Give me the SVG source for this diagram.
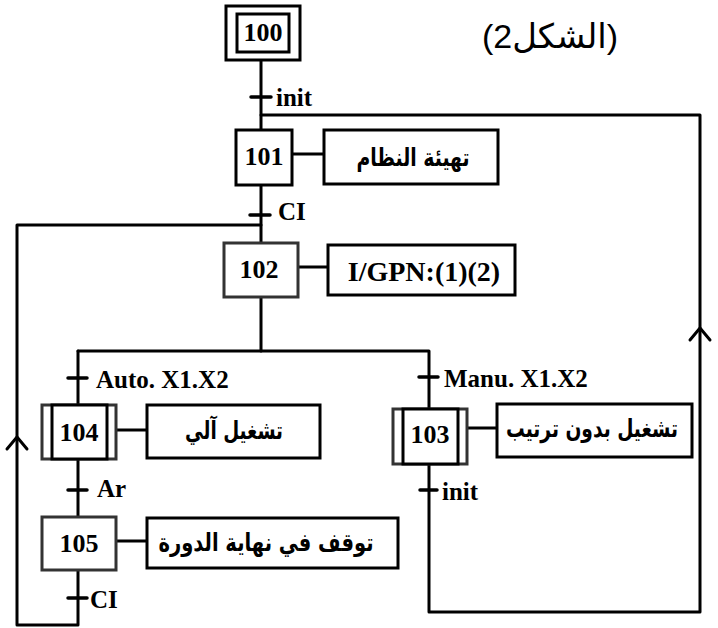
<svg xmlns="http://www.w3.org/2000/svg" width="718" height="628" viewBox="0 0 718 628">
<style>
.ln{fill:none;stroke:#000;stroke-width:3;stroke-linejoin:round;stroke-linecap:round}
.tk{stroke:#000;stroke-width:3.5;stroke-linecap:round}
.bx{fill:#fff;stroke:#000;stroke-width:3}
.gb{fill:#fff;stroke:#333;stroke-width:3}
.num{font-family:"Liberation Serif","Times New Roman",serif;font-weight:bold;font-size:26px;fill:#000;text-anchor:middle}
.lbl{font-family:"Liberation Serif","Times New Roman",serif;font-weight:bold;font-size:25px;fill:#000}
.act{font-family:"Liberation Serif",serif;font-weight:bold;font-size:28px;fill:#000;text-anchor:middle}
.ar{font-family:"DejaVu Sans","Noto Sans",sans-serif;font-weight:bold;font-size:25px;fill:#000;text-anchor:middle}
.ttl{font-family:"Liberation Sans","DejaVu Sans",sans-serif;font-size:34px;fill:#000;text-anchor:middle}
</style>
<g id="connectors">
<path class="ln" d="M261 60 V130"/>
<path class="ln" d="M261 115 H700 V612 H429 V464"/>
<path class="ln" d="M261 185 V243"/>
<path class="ln" d="M261 225 H17 V625 H78 V570"/>
<path class="ln" d="M261 297 V351"/>
<path class="ln" d="M78 351 H429 V409"/>
<path class="ln" d="M78 351 V405"/>
<path class="ln" d="M78 459 V517"/>
<path class="ln" d="M292 154 H324"/>
<path class="ln" d="M298 267 H328"/>
<path class="ln" d="M116 430 H147"/>
<path class="ln" d="M467 428 H497"/>
<path class="ln" d="M116 541 H147"/>
<path class="ln" d="M7 449 L17 437 L27 449"/>
<path class="ln" d="M690 340 L700 328 L710 340"/>
<line class="tk" x1="251" y1="97" x2="271" y2="97"/>
<line class="tk" x1="250" y1="215" x2="270" y2="215"/>
<line class="tk" x1="68" y1="378" x2="87" y2="378"/>
<line class="tk" x1="419" y1="377" x2="438" y2="377"/>
<line class="tk" x1="68" y1="490" x2="87" y2="490"/>
<line class="tk" x1="420" y1="490" x2="437" y2="490"/>
<line class="tk" x1="68" y1="598" x2="87" y2="598"/>
<text class="lbl" x="276" y="106">init</text>
<text class="lbl" x="278" y="220">CI</text>
<text class="lbl" x="96" y="388">Auto. X1.X2</text>
<text class="lbl" x="444" y="387">Manu. X1.X2</text>
<text class="lbl" x="97" y="497">Ar</text>
<text class="lbl" x="442" y="500">init</text>
<text class="lbl" x="90" y="608">CI</text>
</g>
<g id="title">
<text class="ttl" x="550" y="48" direction="rtl">(الشكل2)</text>
</g>
<g id="step100">
<rect class="bx" x="226" y="6" width="74" height="54"/>
<rect class="bx" x="237" y="14" width="52" height="38"/>
<text class="num" x="263" y="41">100</text>
</g>
<g id="step101">
<rect class="bx" x="236" y="130" width="56" height="55"/>
<text class="num" x="264" y="165">101</text>
</g>
<g id="action101">
<rect class="bx" x="324" y="130" width="174" height="54"/>
<text class="ar" x="413" y="166" textLength="113" lengthAdjust="spacingAndGlyphs">تهيئة النظام</text>
</g>
<g id="step102">
<rect class="gb" x="224" y="243" width="74" height="54"/>
<text class="num" x="259" y="278">102</text>
</g>
<g id="action102">
<rect class="bx" x="328" y="245" width="187" height="50"/>
<text class="act" x="424" y="281">I/GPN:(1)(2)</text>
</g>
<g id="step104">
<rect class="gb" x="42" y="405" width="74" height="54"/>
<rect class="bx" x="52" y="405" width="55" height="54"/>
<text class="num" x="79" y="441">104</text>
</g>
<g id="action104">
<rect class="bx" x="147" y="405" width="173" height="53"/>
<text class="ar" x="234" y="439" textLength="98" lengthAdjust="spacingAndGlyphs">تشغيل آلي</text>
</g>
<g id="step103">
<rect class="gb" x="393" y="409" width="74" height="55"/>
<rect class="bx" x="403" y="409" width="55" height="55"/>
<text class="num" x="430" y="443">103</text>
</g>
<g id="action103">
<rect class="bx" x="497" y="404" width="195" height="53"/>
<text class="ar" x="592" y="437" textLength="172" lengthAdjust="spacingAndGlyphs">تشغيل بدون ترتيب</text>
</g>
<g id="step105">
<rect class="gb" x="42" y="517" width="74" height="53"/>
<text class="num" x="79" y="552">105</text>
</g>
<g id="action105">
<rect class="bx" x="147" y="518" width="251" height="50"/>
<text class="ar" x="266" y="551" textLength="215" lengthAdjust="spacingAndGlyphs">توقف في نهاية الدورة</text>
</g>
</svg>
